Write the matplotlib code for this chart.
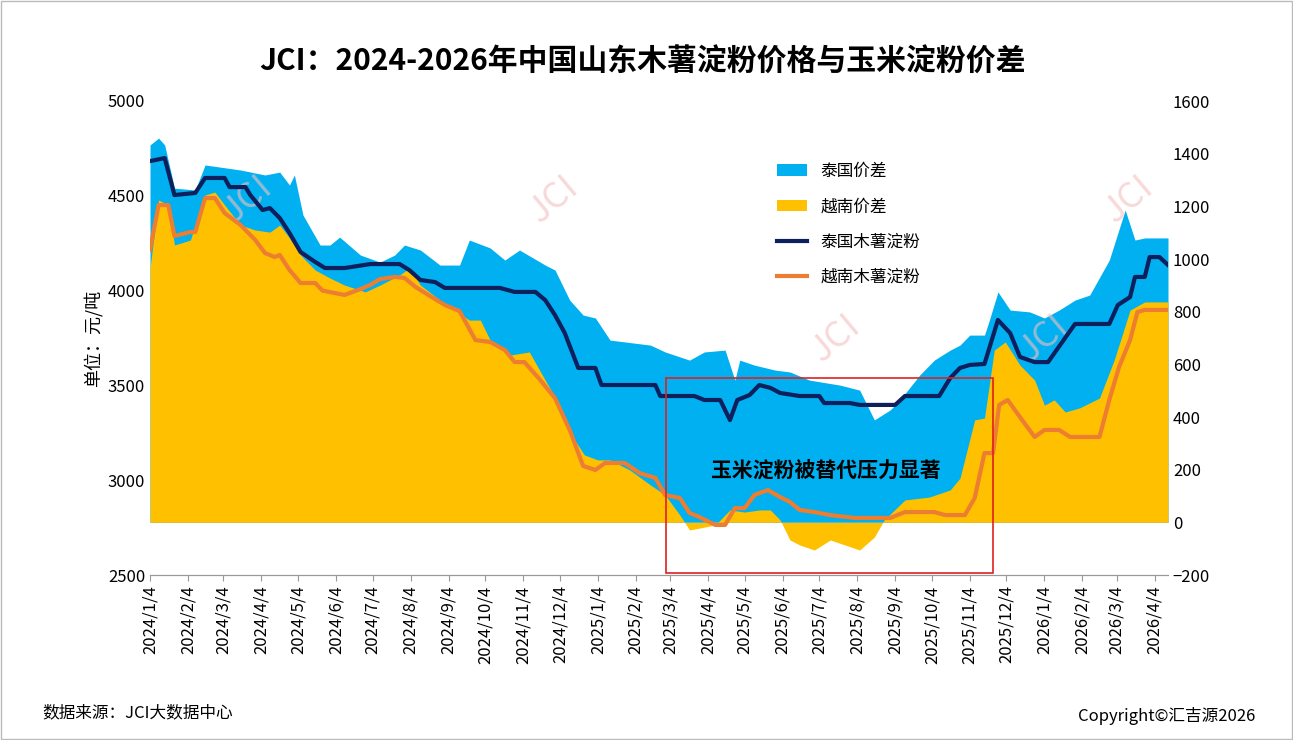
import numpy as np
import matplotlib
matplotlib.use("Agg")
import matplotlib.pyplot as plt
import matplotlib.dates as mdates
from matplotlib.patches import Rectangle

plt.rcParams['font.family'] = ['Noto Sans CJK SC', 'DejaVu Sans']

base = np.datetime64('2024-01-04')

thai_days = [0,12,20,37,45,61,65,78,82,92,98,106,114,123,135,143,159,180,204,212,221,233,241,286,298,315,323,331,339,350,364,369,413,417,445,453,466,474,480,490,498,507,515,531,547,551,572,580,609,617,645,654,662,670,682,693,703,711,723,734,756,784,791,801,805,813,817,825,832]
thai_price = [4683,4699,4504,4515,4594,4594,4546,4546,4504,4425,4435,4383,4304,4204,4151,4119,4119,4140,4140,4108,4056,4045,4014,4014,3993,3993,3950,3871,3776,3592,3592,3502,3502,3444,3444,3423,3423,3317,3423,3449,3502,3487,3460,3444,3444,3407,3407,3397,3397,3444,3444,3539,3592,3608,3613,3845,3776,3650,3623,3623,3824,3824,3924,3966,4072,4072,4177,4177,4135]

viet_days = [0,7,15,20,33,37,45,53,61,74,86,94,102,106,114,123,135,141,159,172,180,188,200,208,217,229,241,253,266,278,290,298,306,319,331,343,354,364,372,388,400,413,421,433,441,449,462,470,478,486,494,505,515,523,531,543,556,576,605,617,641,650,666,674,682,689,694,701,711,723,731,743,752,776,784,792,801,807,813,832]
viet_price = [4214,4451,4451,4288,4309,4309,4488,4488,4409,4346,4267,4198,4177,4188,4109,4040,4040,4000,3977,4008,4030,4061,4072,4067,4019,3971,3924,3892,3739,3729,3687,3623,3623,3528,3433,3265,3075,3054,3091,3091,3038,3012,2922,2906,2827,2806,2764,2764,2853,2853,2922,2948,2911,2885,2843,2832,2816,2801,2801,2832,2832,2816,2816,2906,3143,3143,3397,3423,3333,3228,3265,3265,3228,3228,3423,3597,3739,3887,3898,3898]

thai_spread_days = [0,7,12,20,37,45,74,94,106,114,118,125,139,147,155,172,188,200,208,221,237,253,261,278,290,302,323,331,343,354,364,376,409,421,441,453,470,478,482,494,511,523,539,564,580,592,605,613,629,641,654,662,670,682,686,693,703,719,731,743,756,768,784,797,805,813,832]
thai_spread = [1433,1459,1433,1269,1262,1357,1338,1319,1330,1281,1319,1167,1053,1053,1083,1015,988,1015,1053,1034,977,977,1072,1042,996,1034,977,958,844,787,776,692,673,647,616,647,654,540,616,597,578,571,540,521,502,389,427,465,559,616,654,673,711,711,768,875,806,799,776,806,844,863,996,1186,1072,1080,1080]

viet_spread_days = [0,7,15,20,33,45,53,61,74,86,98,106,114,123,135,147,159,176,188,204,212,221,237,249,261,270,278,294,310,323,335,347,355,366,376,392,409,421,433,441,449,462,474,486,498,507,515,523,531,543,556,568,580,592,600,617,637,654,662,674,682,690,699,711,723,731,739,748,760,776,788,801,813,832]
viet_spread = [966,1224,1205,1053,1072,1243,1254,1205,1129,1110,1102,1129,1080,1015,958,928,901,875,901,939,966,901,844,806,768,768,692,635,647,540,445,313,256,237,237,199,142,104,28,-29,-22,-10,47,39,47,47,9,-67,-86,-105,-67,-86,-105,-56,9,85,96,123,168,389,396,654,685,597,540,445,465,419,435,472,616,806,837,837]

def d(days):
    return base + np.array(days).astype('timedelta64[D]')

fig = plt.figure(figsize=(12.93, 7.4), dpi=100)
ax = fig.add_axes([150/1293, 165/740, 1018/1293, 474/740])
ax2 = ax.twinx()

ax2.fill_between(d(thai_spread_days), 0, thai_spread, color='#00b0f0', lw=0, label='泰国价差')
ax2.fill_between(d(viet_spread_days), 0, viet_spread, color='#ffc000', lw=0, label='越南价差')
ax2.set_ylim(-200, 1600)
ax2.set_yticks(range(-200, 1601, 200))

ax.set_zorder(ax2.get_zorder() + 1)
ax.patch.set_visible(False)
l1, = ax.plot(d(thai_days), thai_price, color='#0d1f5c', lw=3, label='泰国木薯淀粉')
l2, = ax.plot(d(viet_days), viet_price, color='#ed7d31', lw=3, label='越南木薯淀粉')
ax.set_ylim(2500, 5000)
ax.set_yticks(range(2500, 5001, 500))
ax.set_ylabel('单位：元/吨', fontsize=13)

months = np.arange(np.datetime64('2024-01'), np.datetime64('2026-05'))
ticks = [m.astype('datetime64[D]') + np.timedelta64(3, 'D') for m in months]
ax.set_xticks(ticks)
ax.set_xticklabels([f"{str(m)[:4]}/{int(str(m)[5:7])}/4" for m in months], rotation=90, fontsize=12)
ax.set_xlim(base, base + np.timedelta64(832, 'D'))

for a in (ax, ax2):
    for s in ('top', 'left', 'right'):
        a.spines[s].set_visible(False)
    a.spines['bottom'].set_color('#999999')
    a.tick_params(axis='y', length=0, labelsize=12)
ax.tick_params(axis='x', length=4, color='#999999')

h1, lb1 = ax2.get_legend_handles_labels()
leg = ax.legend(h1 + [l1, l2], lb1 + ['泰国木薯淀粉', '越南木薯淀粉'],
                loc='upper left', bbox_to_anchor=(0.595, 0.915), fontsize=12,
                frameon=True, fancybox=False, edgecolor='white', facecolor='white',
                framealpha=1, labelspacing=1.1, handlelength=1.8, borderpad=0.8)

for xd, yv in [(80, 4480), (330, 4480), (530, 4480), (560, 3750), (730, 3750), (800, 4480)]:
    ax.text(base + np.timedelta64(xd, 'D'), yv, 'JCI', fontsize=26, color='#f4c0c0',
            rotation=40, alpha=0.6, ha='center', va='center', zorder=0)

x0 = base + np.timedelta64(422, 'D')
x1 = base + np.timedelta64(689, 'D')
ax.add_patch(Rectangle((mdates.date2num(x0), 2508), mdates.date2num(x1) - mdates.date2num(x0), 1030,
                       fill=False, edgecolor='#e02020', lw=1.2, zorder=5))
ax.text(base + np.timedelta64(552, 'D'), 3055, '玉米淀粉被替代压力显著', fontsize=15,
        fontweight='bold', ha='center', va='center', zorder=6)

fig.text(0.497, 1 - 62/740, 'JCI：2024-2026年中国山东木薯淀粉价格与玉米淀粉价差',
         fontsize=21.5, fontweight='bold', ha='center', va='center')
fig.text(42/1293, 1 - 713/740, '数据来源：JCI大数据中心', fontsize=12, va='center')
fig.text(1255/1293, 1 - 716/740, 'Copyright©汇吉源2026', fontsize=12, va='center', ha='right')
fig.patches.append(Rectangle((0.001, 0.001), 0.998, 0.998, transform=fig.transFigure,
                             fill=False, edgecolor='#bbbbbb', lw=1))
fig.savefig('out.png', dpi=100)
